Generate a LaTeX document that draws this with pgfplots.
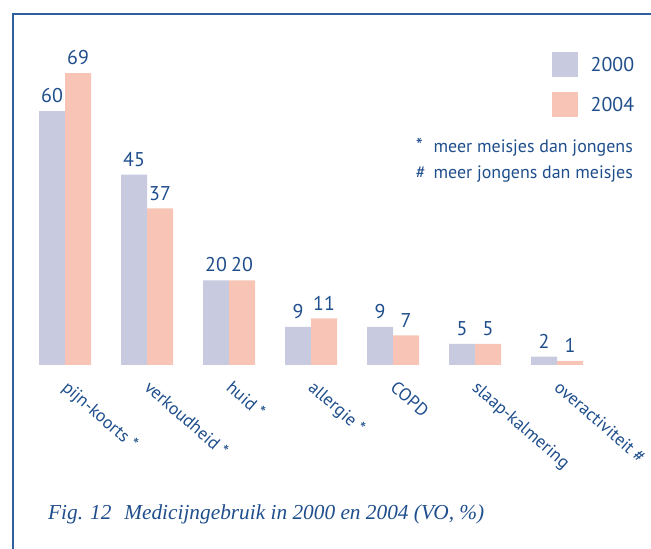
\documentclass[border=0pt]{standalone}
\usepackage{pgfplots}
\pgfplotsset{compat=1.18}
\usepackage{fontspec}
\setmainfont{PT Sans}
\newfontfamily\capfont{Liberation Serif}
\definecolor{c2000}{HTML}{C8CAE0}
\definecolor{c2004}{HTML}{F8C4B6}
\definecolor{txt}{HTML}{1F4E8C}
\definecolor{framec}{HTML}{2F5F9E}
\begin{document}
\begin{tikzpicture}[x=1bp,y=1bp]
\useasboundingbox (0,0) rectangle (651,549);
\draw[framec, line width=1.5bp] (13,0) -- (13,535) -- (651,535);
\begin{axis}[
  at={(24bp,184bp)}, anchor=south west,
  scale only axis, width=574bp, height=338.4bp,
  xmin=-0.5, xmax=6.5, ymin=0, ymax=80,
  ybar=0pt, bar width=26bp,
  axis line style={draw=none},
  major tick length=0pt,
  ytick=\empty,
  xtick=data,
  /pgf/number format/assume math mode=true,
  xticklabels={pijn-koorts *, verkoudheid *, huid *, allergie *, COPD, slaap-kalmering, overactiviteit \#},
  xticklabel style={rotate=-41, anchor=north west, inner sep=0pt, yshift=-8bp, xshift=13bp,
    font=\fontsize{17.8}{20}\selectfont, text=txt},
  nodes near coords,
  nodes near coords style={font=\fontsize{20}{22}\selectfont, text=txt, anchor=south, inner sep=0pt, yshift=8bp},
  clip=false,
  legend style={draw=none, fill=none, at={(0.919,0.925)}, anchor=north west,
    font=\fontsize{20}{22}\selectfont, text=txt, row sep=15bp, inner sep=0pt,
    /tikz/every odd column/.style={column sep=11bp}},
  legend cell align=left,
  legend image code/.code={\fill[#1] (0bp,-12.5bp) rectangle (26bp,12.5bp);},
]
\addplot[fill=c2000, draw=none] coordinates {(0,60) (1,45) (2,20) (3,9) (4,9) (5,5) (6,2)};
\addplot[fill=c2004, draw=none] coordinates {(0,69) (1,37) (2,20) (3,11) (4,7) (5,5) (6,1)};
\legend{2000,2004}
\end{axis}
\node[anchor=base east, text=txt, font=\fontsize{18}{26}\selectfont, inner sep=0pt] at (633,396)
  {\begin{tabular}[t]{@{}l@{\hspace{8bp}}l@{}}\fontsize{20}{26}\selectfont*&meer meisjes dan jongens\\[0pt] \#&meer jongens dan meisjes\end{tabular}};
\node[anchor=base west, text=txt, font=\capfont\itshape\fontsize{21.4}{24}\selectfont, inner sep=0pt] at (48,29)
  {Fig. 12\hspace{0.6em}Medicijngebruik in 2000 en 2004 (VO, \%)};
\end{tikzpicture}
\end{document}
